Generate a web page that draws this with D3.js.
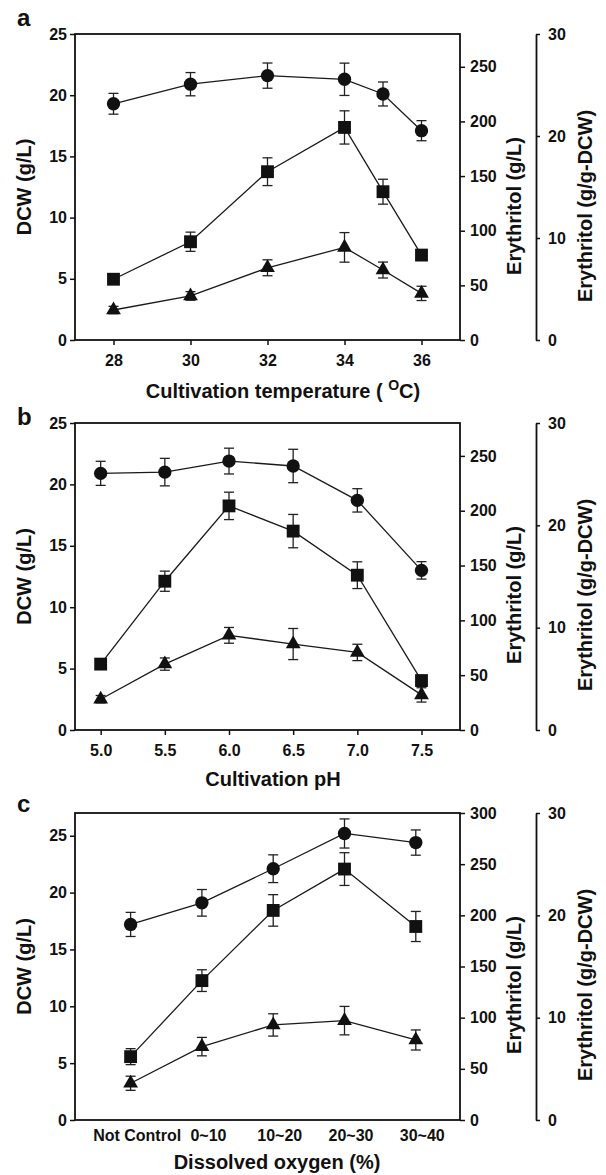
<!DOCTYPE html>
<html>
<head>
<meta charset="utf-8">
<script src="https://cdn.jsdelivr.net/npm/d3@7"></script>
<style>
  body { margin: 0; background: #fff; }
  svg { display: block; font-family: "Liberation Sans", Arial, sans-serif; font-weight: bold; }
</style>
</head>
<body>
<div id="chart"></div>
<script>
// ---- data ----
// panel a: cultivation temperature
const tempX = [28, 30, 32, 34, 35, 36];
const tempTicks = [28, 30, 32, 34, 36];
const tempDCW = [19.3, 20.9, 21.6, 21.3, 20.1, 17.1];
const tempDCWErr = [0.85, 0.95, 1.03, 1.32, 0.98, 0.82];
const tempEry = [55.6, 89.9, 154, 194.5, 135.7, 77.7];
const tempEryErr = [4.5, 8.8, 12.7, 15.2, 11.4, 4.5];
const tempYield = [2.94, 4.32, 7.08, 9.08, 6.86, 4.57];
const tempYieldErr = [0.36, 0.42, 0.78, 1.45, 0.78, 0.7];

// panel b: cultivation pH
const phX = [5.0, 5.5, 6.0, 6.5, 7.0, 7.5];
const phDCW = [20.9, 21.0, 21.9, 21.5, 18.7, 13.0];
const phDCWErr = [0.98, 1.12, 1.05, 1.36, 0.95, 0.71];
const phEry = [60.1, 135.7, 204.4, 181.4, 141.2, 45.1];
const phEryErr = [4, 9.2, 12.5, 15.2, 12.2, 4];
const phYield = [3.01, 6.44, 9.25, 8.4, 7.58, 3.43];
const phYieldErr = [0.36, 0.6, 0.77, 1.52, 0.8, 0.7];

// panel c: dissolved oxygen
const doCategories = ['Not Control', '0~10', '10~20', '20~30', '30~40'];
const doDCW = [17.2, 19.1, 22.1, 25.2, 24.4];
const doDCWErr = [1.06, 1.17, 1.22, 1.28, 1.11];
const doEry = [61.9, 136.2, 204.8, 245.2, 189.1];
const doEryErr = [7.8, 10.6, 15.4, 16, 14.7];
const doYield = [3.59, 7.17, 9.29, 9.71, 7.82];
const doYieldErr = [0.69, 0.9, 1.09, 1.39, 0.98];

// axis ticks
const dcwTicks = [0, 5, 10, 15, 20, 25];
const eryTicksAB = [0, 50, 100, 150, 200, 250];
const eryTicksC = [0, 50, 100, 150, 200, 250, 300];
const yieldTicks = [0, 10, 20, 30];

const W = 606, H = 1175;
const svg = d3.select('#chart').append('svg')
    .attr('width', W)
    .attr('height', H);

svg.append('rect').attr('width', W).attr('height', H).attr('fill', '#fff');

const LEFT = 75, RIGHT = 460, AXIS3 = 536;

const panels = [
    {
        letter: 'a', letterY: 26, top: 34, bottom: 340,
        xDomain: [27, 37], xs: tempX, xTicks: tempTicks, xFormat: d3.format('d'),
        dcwMax: 25, eryMax: 280, eryTicks: eryTicksAB,
        dcw: [tempDCW, tempDCWErr], ery: [tempEry, tempEryErr], yld: [tempYield, tempYieldErr],
        title: 'temp', titleX: 283, titleDy: 58
    },
    {
        letter: 'b', letterY: 425, top: 423, bottom: 730,
        xDomain: [4.8, 7.8], xs: phX, xTicks: phX, xFormat: d3.format('.1f'),
        dcwMax: 25, eryMax: 280, eryTicks: eryTicksAB,
        dcw: [phDCW, phDCWErr], ery: [phEry, phEryErr], yld: [phYield, phYieldErr],
        title: 'Cultivation pH', titleX: 273, titleDy: 56
    },
    {
        letter: 'c', letterY: 812, top: 813, bottom: 1120,
        xDomain: [-0.78, 4.62], xs: doCategories.map((d, i) => i), xTicks: null,
        dcwMax: 27, eryMax: 300, eryTicks: eryTicksC,
        dcw: [doDCW, doDCWErr], ery: [doEry, doEryErr], yld: [doYield, doYieldErr],
        title: 'Dissolved oxygen (%)', titleX: 277, titleDy: 49
    }
];

function styleAxis(sel, size) {
    sel.attr('font-family', null).attr('font-size', null);
    sel.selectAll('text')
        .style('font-size', size + 'px')
        .style('font-weight', 'bold')
        .attr('fill', '#111');
    sel.selectAll('line').attr('stroke', '#111').attr('stroke-width', 1.5);
    sel.selectAll('path').attr('stroke', '#111').attr('stroke-width', 1.8);
}

panels.forEach(p => {
    const g = svg.append('g');
    const T = p.top, B = p.bottom;

    const x = d3.scaleLinear().domain(p.xDomain).range([LEFT, RIGHT]);
    const yL = d3.scaleLinear().domain([0, p.dcwMax]).range([B, T]);
    const yR = d3.scaleLinear().domain([0, p.eryMax]).range([B, T]);
    const yY = d3.scaleLinear().domain([0, 30]).range([B, T]);

    // left axis
    const la = g.append('g')
        .attr('transform', `translate(${LEFT},0)`)
        .call(d3.axisLeft(yL).tickValues(dcwTicks).tickSize(5).tickPadding(3).tickSizeOuter(0));
    la.select('.domain').remove();
    styleAxis(la, 16);

    // right axis (erythritol g/L)
    const ra = g.append('g')
        .attr('transform', `translate(${RIGHT},0)`)
        .call(d3.axisRight(yR).tickValues(p.eryTicks).tickSize(5).tickPadding(5).tickSizeOuter(0));
    ra.select('.domain').remove();
    styleAxis(ra, 16);

    // third axis (g/g-DCW)
    const ta = g.append('g')
        .attr('transform', `translate(${AXIS3},0)`)
        .call(d3.axisRight(yY).tickValues(yieldTicks).tickSize(4).tickPadding(8).tickSizeOuter(0));
    styleAxis(ta, 16);

    // bottom axis
    let ba;
    if (p.xTicks) {
        ba = g.append('g')
            .attr('transform', `translate(0,${B})`)
            .call(d3.axisBottom(x).tickValues(p.xTicks).tickFormat(p.xFormat)
                .tickSize(5).tickPadding(10).tickSizeOuter(0));
    } else {
        ba = g.append('g')
            .attr('transform', `translate(0,${B})`)
            .call(d3.axisBottom(x).tickValues(p.xs).tickFormat(i => doCategories[i])
                .tickSize(0).tickPadding(10).tickSizeOuter(0));
        ba.selectAll('text').attr('dx', 6);
    }
    ba.select('.domain').remove();
    styleAxis(ba, 16);

    // frame
    g.append('rect')
        .attr('x', LEFT).attr('y', T)
        .attr('width', RIGHT - LEFT).attr('height', B - T)
        .attr('fill', 'none')
        .attr('stroke', '#111')
        .attr('stroke-width', 1.8);

    // series
    const series = [
        { vals: p.dcw[0], errs: p.dcw[1], y: yL, sym: d3.symbolCircle, size: 140 },
        { vals: p.ery[0], errs: p.ery[1], y: yR, sym: d3.symbolSquare, size: 165 },
        { vals: p.yld[0], errs: p.yld[1], y: yY, sym: d3.symbolTriangle, size: 95 }
    ];

    series.forEach(s => {
        const pts = s.vals.map((v, i) => ({ x: p.xs[i], v: v, e: s.errs[i] }));

        // error bars
        const eb = g.append('g')
            .attr('stroke', '#222')
            .attr('stroke-width', 1.3);
        pts.forEach(d => {
            const cx = x(d.x);
            const y1 = s.y(d.v + d.e), y2 = s.y(d.v - d.e);
            eb.append('line').attr('x1', cx).attr('x2', cx).attr('y1', y1).attr('y2', y2);
            eb.append('line').attr('x1', cx - 5).attr('x2', cx + 5).attr('y1', y1).attr('y2', y1);
            eb.append('line').attr('x1', cx - 5).attr('x2', cx + 5).attr('y1', y2).attr('y2', y2);
        });

        // connecting line
        g.append('path')
            .datum(pts)
            .attr('fill', 'none')
            .attr('stroke', '#1a1a1a')
            .attr('stroke-width', 1.3)
            .attr('d', d3.line().x(d => x(d.x)).y(d => s.y(d.v)));

        // markers
        g.selectAll(null)
            .data(pts)
            .enter()
            .append('path')
            .attr('transform', d => `translate(${x(d.x)},${s.y(d.v)})`)
            .attr('d', d3.symbol().type(s.sym).size(s.size))
            .attr('fill', '#111');
    });

    // panel letter
    svg.append('text')
        .attr('x', 17).attr('y', p.letterY)
        .style('font-size', '24px')
        .attr('fill', '#111')
        .text(p.letter);

    // x title
    const xt = svg.append('text')
        .attr('x', p.titleX).attr('y', B + p.titleDy)
        .attr('text-anchor', 'middle')
        .style('font-size', '20px')
        .attr('fill', '#111');
    if (p.title === 'temp') {
        xt.append('tspan').text('Cultivation temperature ( ');
        xt.append('tspan').attr('dy', -8).style('font-size', '14px').text('O');
        xt.append('tspan').attr('dy', 8).text('C)');
    } else {
        xt.text(p.title);
    }

    // y titles
    const mid = (T + B) / 2;
    svg.append('text')
        .attr('transform', `translate(31,${mid}) rotate(-90)`)
        .attr('text-anchor', 'middle')
        .style('font-size', '20px')
        .attr('fill', '#111')
        .text('DCW (g/L)');

    svg.append('text')
        .attr('transform', `translate(521,${T + 172}) rotate(-90)`)
        .attr('text-anchor', 'middle')
        .style('font-size', '20px')
        .attr('fill', '#111')
        .text('Erythritol (g/L)');

    svg.append('text')
        .attr('transform', `translate(592,${T + 172}) rotate(-90)`)
        .attr('text-anchor', 'middle')
        .style('font-size', '20px')
        .attr('fill', '#111')
        .text('Erythritol (g/g-DCW)');
});
</script>
</body>
</html>
